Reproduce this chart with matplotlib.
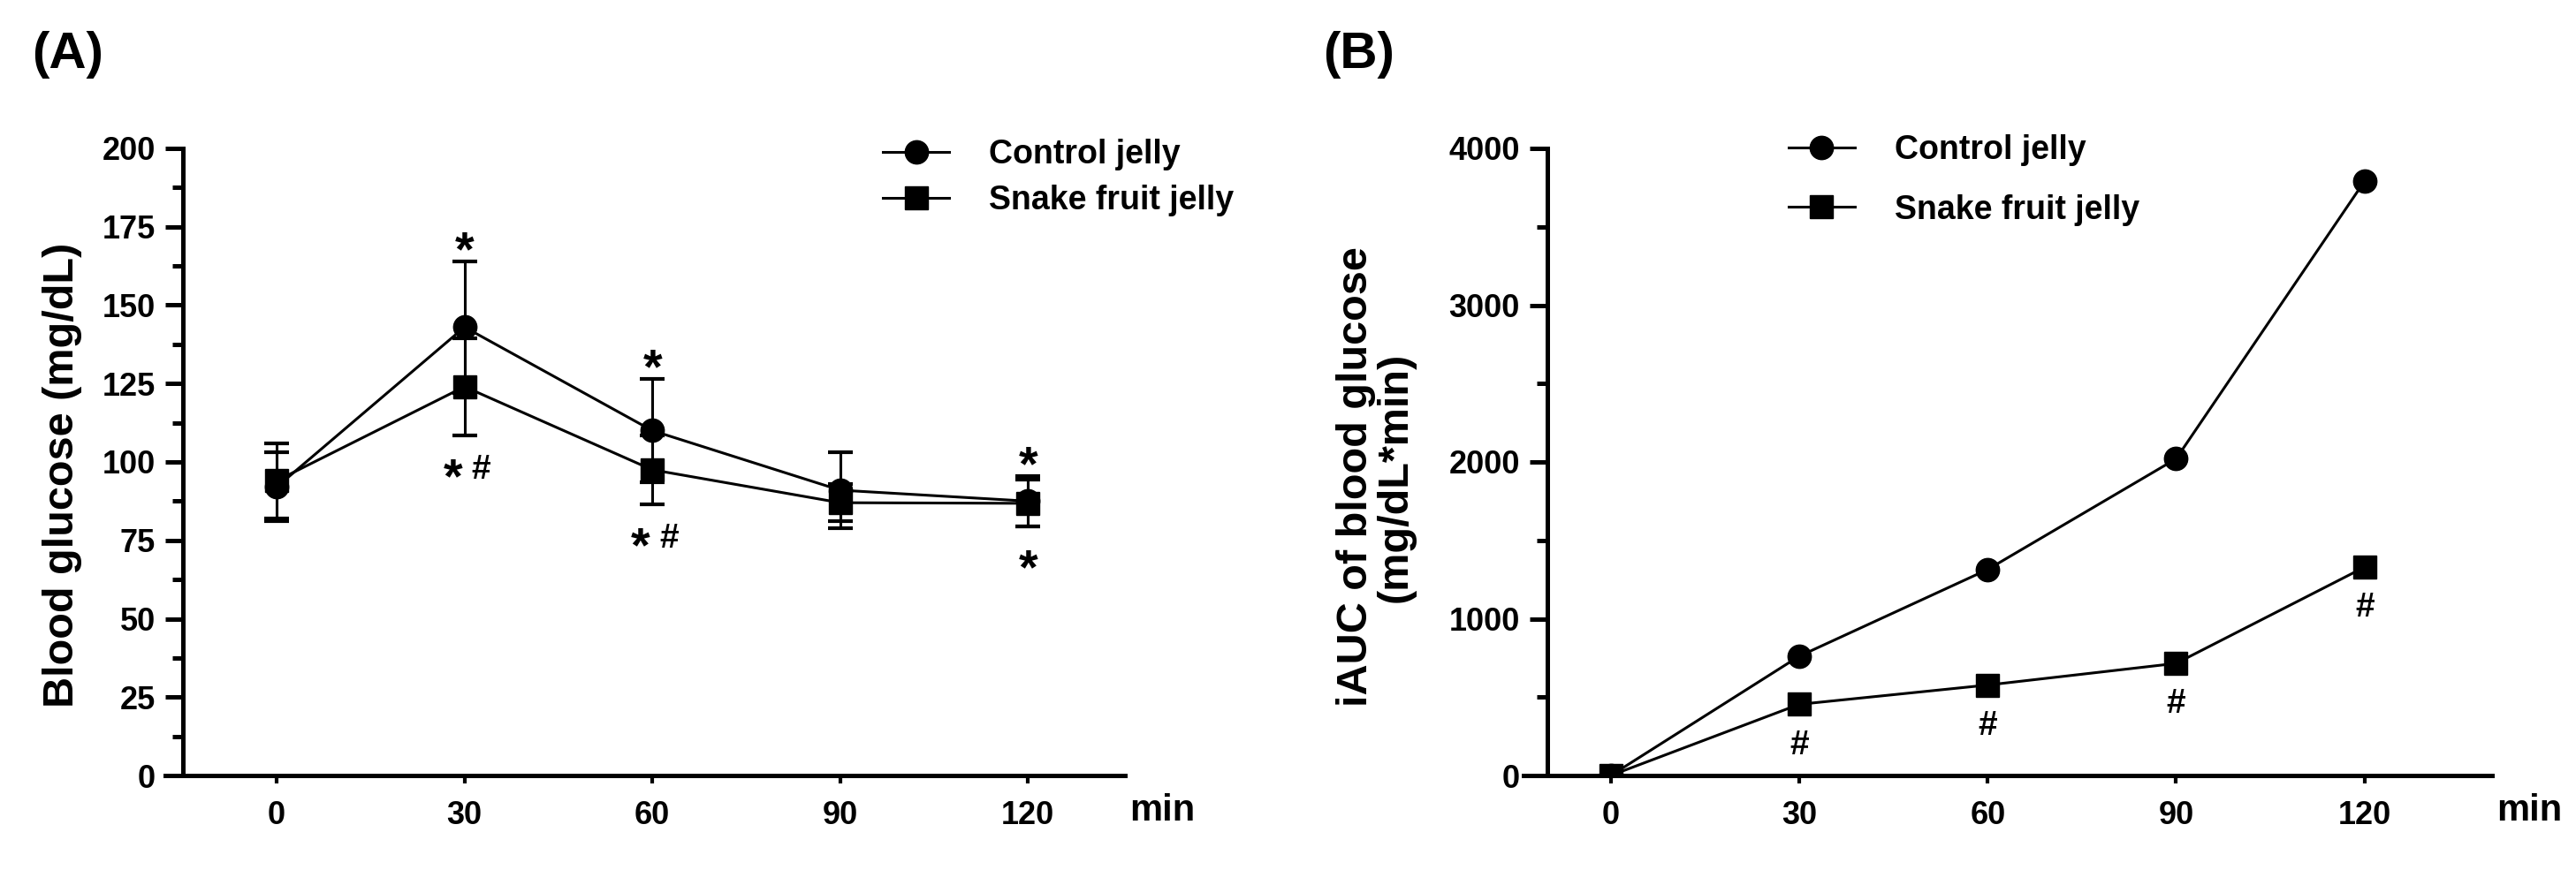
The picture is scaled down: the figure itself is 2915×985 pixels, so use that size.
"""Blood glucose response and iAUC after control vs snake fruit jelly."""
import matplotlib
matplotlib.use("Agg")
import matplotlib.pyplot as plt
from matplotlib.lines import Line2D
from matplotlib.textpath import TextPath
from matplotlib.font_manager import FontProperties

# ---- data ----
time_min = [0, 30, 60, 90, 120]
control_mean = [92, 143, 110, 91, 87.5]
control_sd = [11, 21, 16.5, 12.2, 8]
snake_mean = [94, 124, 97.5, 87, 86.8]
snake_sd = [12, 15.5, 11, 6, 7.5]
iauc_control = [0, 761, 1314, 2020, 3791]
iauc_snake = [0, 454, 577, 715, 1329]

sig_control = ["", "*", "*", "", "*"]      # above control error bar
sig_snake = ["", "*#", "*#", "", "*"]      # below snake error bar
sig_iauc = ["", "#", "#", "#", "#"]        # below snake iAUC point

labels = ["Control jelly", "Snake fruit jelly"]
time_ticks = [0, 30, 60, 90, 120]

FONT = ["Liberation Sans", "DejaVu Sans"]
plt.rcParams["font.family"] = FONT
plt.rcParams["font.weight"] = "bold"

W, H = 2915, 985
LW = 2.2
MS = 19


def glyph(ax, x, y, s, fs, dx=0.0, dy=0.0):
    """Put a glyph so that its ink is centred dx, dy points from (x, y)."""
    fp = FontProperties(family=FONT, weight="bold")
    ext = TextPath((0, 0), s, size=fs, prop=fp).get_extents()
    cy = (ext.y0 + ext.y1) / 2
    ax.annotate(s, (x, y), xytext=(dx, dy - cy), textcoords="offset points",
                ha="center", va="baseline", fontsize=fs, fontweight="bold",
                annotation_clip=False)


def sig_mark(ax, x, y, s, dy):
    if s == "*":
        glyph(ax, x, y, "*", 40, 0, dy)
    elif s == "#":
        glyph(ax, x, y, "#", 28, 0, dy)
    elif s == "*#":
        glyph(ax, x, y, "*", 40, -9.5, dy)
        glyph(ax, x, y, "#", 28, 13.5, dy)


def style_axis(ax, xlim, spine_x, ylim, major, minor):
    ax.set_xlim(*xlim)
    ax.set_ylim(*ylim)
    ax.spines["top"].set_visible(False)
    ax.spines["right"].set_visible(False)
    ax.spines["left"].set_position(("data", spine_x))
    for sp in ("left", "bottom"):
        ax.spines[sp].set_linewidth(3.6)
        ax.spines[sp].set_capstyle("projecting")
    ax.set_xticks(time_ticks)
    ax.set_yticks(major)
    ax.set_yticks(minor, minor=True)
    ax.tick_params(axis="y", which="major", length=14.4, width=3.6,
                   labelsize=26, pad=8)
    ax.tick_params(axis="y", which="minor", length=8.6, width=3.6)
    ax.tick_params(axis="x", which="major", length=6.8, width=3,
                   labelsize=26, pad=13.5)
    ax.text(1.039, -0.056, "min", transform=ax.transAxes, fontsize=30,
            fontweight="bold", ha="center", va="center")


def main():
    fig = plt.figure(figsize=(W / 100, H / 100), dpi=100)
    ax_a = fig.add_axes([187 / W, 1 - 878 / H, 1086 / W, 710 / H])
    ax_b = fig.add_axes([1724 / W, 1 - 878 / H, 1096 / W, 710 / H])

    # (A) blood glucose curve
    ax_a.errorbar(time_min, control_mean, yerr=control_sd, fmt="-o", color="black",
                  ms=MS, lw=LW, elinewidth=LW, capsize=10, capthick=3, zorder=3)
    ax_a.errorbar(time_min, snake_mean, yerr=snake_sd, fmt="-s", color="black",
                  ms=MS, lw=LW, elinewidth=LW, capsize=10, capthick=3, zorder=4)
    style_axis(ax_a, (-17.8, 135.5), -15, (0, 200),
               range(0, 201, 25), [v + 12.5 for v in range(0, 200, 25)])
    ax_a.set_ylabel("Blood glucose (mg/dL)", fontsize=35, fontweight="bold",
                    va="center")
    ax_a.yaxis.set_label_coords(-0.1077, 0.479)

    for x, m, sd, s in zip(time_min, control_mean, control_sd, sig_control):
        sig_mark(ax_a, x, m + sd, s, 17)
    for x, m, sd, s in zip(time_min, snake_mean, snake_sd, sig_snake):
        sig_mark(ax_a, x, m - sd, s, -26)

    handles = [
        Line2D([], [], color="black", marker="o", ms=MS, lw=LW),
        Line2D([], [], color="black", marker="s", ms=MS, lw=LW),
    ]
    ax_a.legend(handles, labels, loc="upper left", bbox_to_anchor=(0.748, 1.016),
                frameon=False, prop={"weight": "bold", "size": 27},
                handlelength=1.99, handletextpad=1.19, labelspacing=0.43,
                borderpad=0, borderaxespad=0)

    # (B) incremental AUC
    ax_b.plot(time_min, iauc_control, "-o", color="black", ms=MS, lw=LW, zorder=3)
    ax_b.plot(time_min, iauc_snake, "-s", color="black", ms=MS, lw=LW, zorder=4)
    style_axis(ax_b, (-13.9, 140.3), -10.1, (0, 4000),
               range(0, 4001, 1000), range(500, 4000, 1000))
    ax_b.set_ylabel("iAUC of blood glucose\n(mg/dL*min)", fontsize=35,
                    fontweight="bold", va="center", linespacing=1.0)
    ax_b.yaxis.set_label_coords(-0.1524, 0.476)

    for x, v, s in zip(time_min, iauc_snake, sig_iauc):
        sig_mark(ax_b, x, v, s, -31)

    ax_b.legend(handles, labels, loc="upper left", bbox_to_anchor=(0.2737, 1.0225),
                frameon=False, prop={"weight": "bold", "size": 27},
                handlelength=2.0, handletextpad=1.2, labelspacing=0.84,
                borderpad=0, borderaxespad=0)

    fig.text(36 / W, 1 - 77 / H, "(A)", fontsize=42, fontweight="bold",
             ha="left", va="baseline")
    fig.text(1497 / W, 1 - 77 / H, "(B)", fontsize=42, fontweight="bold",
             ha="left", va="baseline")

    fig.savefig("out.png", dpi=100)
    plt.close(fig)


if __name__ == "__main__":
    main()
